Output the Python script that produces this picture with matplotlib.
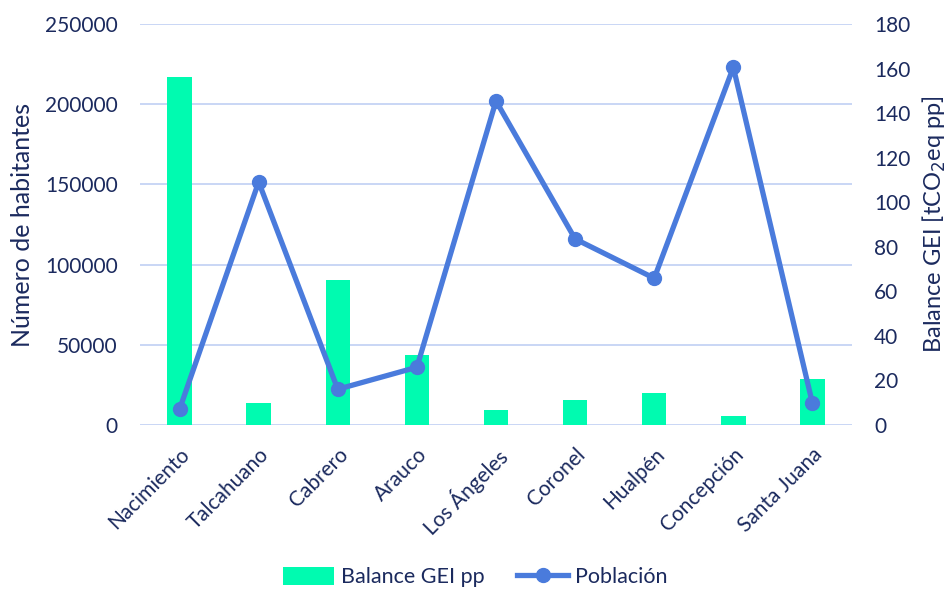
import numpy as np
import matplotlib
matplotlib.use("Agg")
import matplotlib.pyplot as plt

plt.rcParams['font.family'] = ['Lato', 'DejaVu Sans']

# datos
comunas = ["Nacimiento", "Talcahuano", "Cabrero", "Arauco", "Los Ángeles",
           "Coronel", "Hualpén", "Concepción", "Santa Juana"]
balance_gei = [156.2, 9.7, 65.1, 31.3, 6.7, 11.2, 14.2, 4.2, 20.6]
poblacion = [9800, 151500, 22300, 36000, 202000, 116000, 91500, 223000, 13500]

TEXT = "#1B2A5E"
BAR = "#00FBB0"
LINE = "#4A7BDC"
GRID = "#C9D6F5"

fig = plt.figure(figsize=(9.5, 5.92), dpi=100)
ax_bar = fig.add_axes([140 / 950, 1 - 425 / 592, 712 / 950, 401 / 592])
x = np.arange(len(comunas))

# grid lines (shared by both axes)
for t in np.arange(0, 181, 36):
    ax_bar.axhline(t, color=GRID, lw=1.4, zorder=0)

bars = ax_bar.bar(x, balance_gei, width=0.31, color=BAR, label="Balance GEI pp", zorder=2)
ax_bar.set_ylim(0, 180)
ax_bar.set_yticks(np.arange(0, 181, 20))
ax_bar.set_xlim(-0.5, len(comunas) - 0.5)
ax_bar.set_xticks(x)
ax_bar.set_xticklabels(comunas, rotation=45, ha="right", rotation_mode="anchor",
                       color=TEXT, fontsize=15)

ax_line = ax_bar.twinx()
line, = ax_line.plot(x, poblacion, color=LINE, lw=3.8, marker="o", ms=10,
                     label="Población", zorder=3)
ax_line.set_ylim(0, 250000)
ax_line.set_yticks(np.arange(0, 250001, 50000))

# poblacion a la izquierda, balance a la derecha
ax_line.yaxis.tick_left()
ax_line.yaxis.set_label_position("left")
ax_line.set_ylabel("Número de habitantes", color=TEXT, fontsize=18, labelpad=8)
ax_bar.yaxis.tick_right()
ax_bar.yaxis.set_label_position("right")
ax_bar.set_ylabel("Balance GEI [tCO$_2$eq pp]", color=TEXT, fontsize=17, labelpad=7)

for a in (ax_bar, ax_line):
    for s in a.spines.values():
        s.set_visible(False)
    a.tick_params(length=0, colors=TEXT, labelsize=15)
ax_bar.tick_params(axis="y", pad=16)
ax_line.tick_params(axis="y", pad=16)
ax_bar.tick_params(axis="x", pad=14)

fig.legend(handles=[bars, line], loc="center", bbox_to_anchor=(0.5, 0.025), ncol=2,
           frameon=False, fontsize=15.5, labelcolor=TEXT, handlelength=2.4,
           handleheight=0.9, handletextpad=0.3, columnspacing=1.5)

fig.savefig("out.png", dpi=100)
